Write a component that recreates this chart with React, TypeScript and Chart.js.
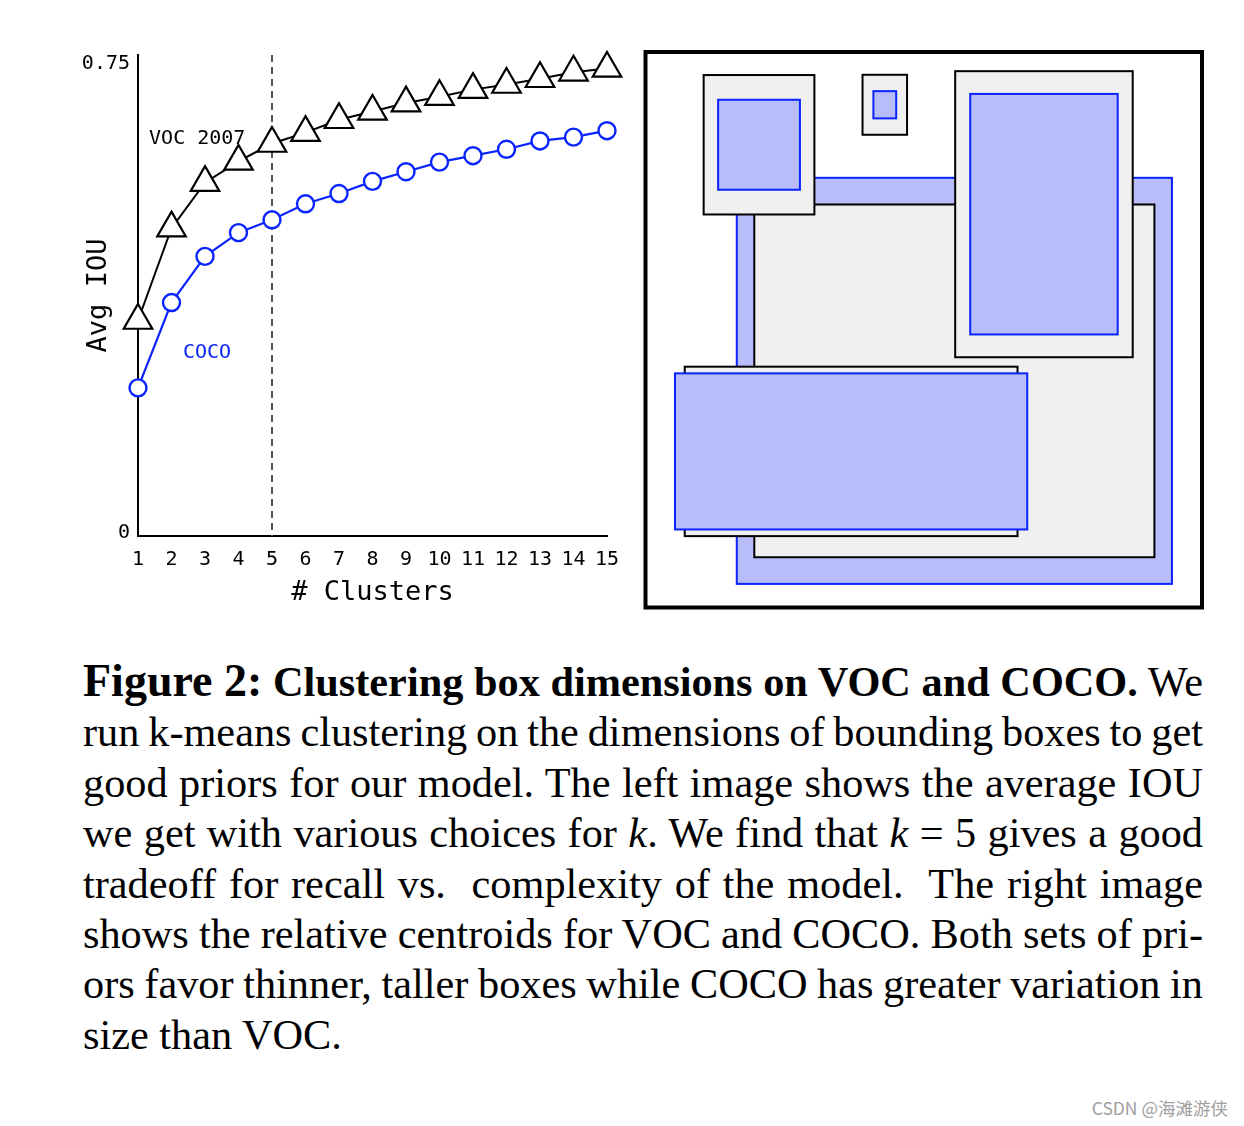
import React, { useEffect, useRef } from 'react';
import { Chart, registerables } from 'chart.js';

Chart.register(...registerables);

// ---------- Left plot data ----------
const clusters = [1, 2, 3, 4, 5, 6, 7, 8, 9, 10, 11, 12, 13, 14, 15];
const vocIou = [0.336, 0.48, 0.551, 0.584, 0.612, 0.629, 0.649, 0.662, 0.675, 0.685, 0.696, 0.704, 0.713, 0.723, 0.729];
const cocoIou = [0.231, 0.364, 0.436, 0.473, 0.493, 0.518, 0.534, 0.553, 0.568, 0.583, 0.593, 0.603, 0.616, 0.622, 0.632];
const yTickValues = [0, 0.75];
const yTickLabels = ['0', '0.75'];
const chosenK = 5;
const seriesNames = ['VOC 2007', 'COCO'];
// label anchors in data units (x = clusters, y = avg IOU)
const seriesLabelX = [1.33, 2.34];
const seriesLabelY = [0.611, 0.2776];

// ---------- Right panel data (relative centroids, frame = 0..1) ----------
const boxCenterX = [0.555, 0.204, 0.43, 0.716, 0.3695];
const boxCenterY = [0.592, 0.167, 0.095, 0.292, 0.719];
const vocBoxW = [0.719, 0.199, 0.08, 0.319, 0.598];
const vocBoxH = [0.635, 0.251, 0.108, 0.515, 0.305];
const cocoBoxW = [0.782, 0.147, 0.041, 0.265, 0.633];
const cocoBoxH = [0.731, 0.162, 0.049, 0.433, 0.281];

const MONO = '"DejaVu Sans Mono", monospace';
const BLUE = '#0a24ff';
const BOX_BLUE_FILL = '#b8bcfa';
const BOX_GRAY_FILL = '#f0f0f0';

const annotPlugin = {
  id: 'annot',
  beforeDatasetsDraw(chart: any) {
    const { ctx } = chart;
    const xs = chart.scales.x;
    const ys = chart.scales.y;
    ctx.save();
    ctx.strokeStyle = '#555555';
    ctx.lineWidth = 2;
    ctx.setLineDash([7, 5]);
    const px = Math.round(xs.getPixelForValue(chosenK));
    ctx.beginPath();
    ctx.moveTo(px, ys.getPixelForValue(0.75));
    ctx.lineTo(px, ys.getPixelForValue(0));
    ctx.stroke();
    ctx.setLineDash([]);
    ctx.font = '20px ' + MONO;
    ctx.textBaseline = 'alphabetic';
    ctx.textAlign = 'left';
    const colors = ['#000', BLUE];
    for (let i = 0; i < seriesNames.length; i++) {
      ctx.fillStyle = colors[i];
      ctx.fillText(seriesNames[i], xs.getPixelForValue(seriesLabelX[i]), ys.getPixelForValue(seriesLabelY[i]));
    }
    ctx.restore();
  },
};

const boxPlugin = {
  id: 'boxes',
  beforeDatasetsDraw(chart: any) {
    const { ctx, chartArea: a } = chart;
    const xs = chart.scales.x;
    const ys = chart.scales.y;
    ctx.save();
    ctx.fillStyle = '#fff';
    ctx.fillRect(a.left, a.top, a.right - a.left, a.bottom - a.top);
    for (let i = 0; i < boxCenterX.length; i++) {
      const cx = boxCenterX[i];
      const cy = boxCenterY[i];
      const voc = { w: vocBoxW[i], h: vocBoxH[i], fill: BOX_GRAY_FILL, stroke: '#000' };
      const coco = { w: cocoBoxW[i], h: cocoBoxH[i], fill: BOX_BLUE_FILL, stroke: BLUE };
      const order = voc.w * voc.h >= coco.w * coco.h ? [voc, coco] : [coco, voc];
      for (const b of order) {
        const x1 = xs.getPixelForValue(cx - b.w / 2);
        const x2 = xs.getPixelForValue(cx + b.w / 2);
        const y1 = ys.getPixelForValue(cy - b.h / 2);
        const y2 = ys.getPixelForValue(cy + b.h / 2);
        ctx.fillStyle = b.fill;
        ctx.fillRect(x1, y1, x2 - x1, y2 - y1);
        ctx.lineWidth = 2;
        ctx.strokeStyle = b.stroke;
        ctx.strokeRect(x1, y1, x2 - x1, y2 - y1);
      }
    }
    ctx.lineWidth = 4;
    ctx.strokeStyle = '#000';
    ctx.strokeRect(a.left, a.top, a.right - a.left, a.bottom - a.top);
    ctx.restore();
  },
};

function IouChart() {
  const ref = useRef<HTMLCanvasElement>(null);
  useEffect(() => {
    if (!ref.current) return;
    const chart = new Chart(ref.current, {
      type: 'line',
      data: {
        datasets: [
          {
            label: seriesNames[0],
            data: clusters.map((k, i) => ({ x: k, y: vocIou[i] })),
            borderColor: '#000',
            borderWidth: 2,
            pointStyle: 'triangle',
            pointRadius: 16.5,
            pointHoverRadius: 16.5,
            pointBackgroundColor: '#fff',
            pointBorderColor: '#000',
            pointBorderWidth: 2.2,
            clip: false,
          } as any,
          {
            label: seriesNames[1],
            data: clusters.map((k, i) => ({ x: k, y: cocoIou[i] })),
            borderColor: BLUE,
            borderWidth: 2.2,
            pointStyle: 'circle',
            pointRadius: 8.5,
            pointHoverRadius: 8.5,
            pointBackgroundColor: '#fff',
            pointBorderColor: BLUE,
            pointBorderWidth: 2.4,
            clip: false,
          } as any,
        ],
      },
      options: {
        responsive: false,
        animation: false,
        devicePixelRatio: 1,
        layout: { padding: { left: 0, right: 33, top: 55, bottom: 0 }, autoPadding: false } as any,
        plugins: { legend: { display: false }, tooltip: { enabled: false } },
        scales: {
          x: {
            type: 'linear',
            min: 1,
            max: 15,
            afterBuildTicks: (s: any) => {
              s.ticks = clusters.map((v) => ({ value: v }));
            },
            ticks: {
              color: '#000',
              font: { family: MONO, size: 20 },
              padding: 12,
              maxRotation: 0,
              autoSkip: false,
              callback: (v: any) => String(v),
            },
            grid: { display: false, drawTicks: false },
            border: { display: true, color: '#000', width: 2 },
            title: {
              display: true,
              text: '# Clusters',
              color: '#000',
              font: { family: MONO, size: 27 },
              padding: { top: 0, bottom: 31 },
            },
            afterFit: (s: any) => {
              s.height = 104;
            },
          },
          y: {
            type: 'linear',
            min: 0,
            max: 0.75,
            afterBuildTicks: (s: any) => {
              s.ticks = yTickValues.map((v) => ({ value: v }));
            },
            ticks: {
              color: '#000',
              padding: 8,
              font: (ctx: any) => ({
                family: MONO,
                size: 20,
                lineHeight: ctx.tick && ctx.tick.value > 0 ? 0.85 : 0.3,
              }),
              callback: (v: any, i: number) => (i === 0 ? [yTickLabels[0], ''] : ['', yTickLabels[1]]),
            },
            grid: { display: false, drawTicks: false },
            border: { display: true, color: '#000', width: 2 },
            title: {
              display: true,
              text: 'Avg IOU',
              color: '#000',
              font: { family: MONO, size: 27 },
              padding: { top: 83, bottom: 0 },
            },
            afterFit: (s: any) => {
              s.width = 138;
            },
          },
        },
      },
      plugins: [annotPlugin],
    });
    return () => chart.destroy();
  }, []);
  return <canvas ref={ref} width={640} height={640} style={{ position: 'absolute', left: 0, top: 0, display: 'block' }} />;
}

function CentroidChart() {
  const ref = useRef<HTMLCanvasElement>(null);
  useEffect(() => {
    if (!ref.current) return;
    const chart = new Chart(ref.current, {
      type: 'scatter',
      data: {
        datasets: [
          {
            label: 'VOC',
            data: boxCenterX.map((x, i) => ({ x, y: boxCenterY[i] })),
            pointRadius: 0,
          },
          {
            label: 'COCO',
            data: boxCenterX.map((x, i) => ({ x, y: boxCenterY[i] })),
            pointRadius: 0,
          },
        ],
      },
      options: {
        responsive: false,
        animation: false,
        devicePixelRatio: 1,
        layout: { padding: { left: 5.5, top: 12, right: 18, bottom: 12.5 }, autoPadding: false } as any,
        plugins: { legend: { display: false }, tooltip: { enabled: false } },
        scales: {
          x: { type: 'linear', min: 0, max: 1, display: false },
          y: { type: 'linear', min: 0, max: 1, reverse: true, display: false },
        },
      },
      plugins: [boxPlugin],
    });
    return () => chart.destroy();
  }, []);
  return <canvas ref={ref} width={580} height={580} style={{ position: 'absolute', left: 640, top: 40, display: 'block' }} />;
}

const lineStyle: React.CSSProperties = {
  textAlign: 'justify',
  textAlignLast: 'justify' as any,
  whiteSpace: 'nowrap',
};

export default function App() {
  return (
    <div
      style={{
        position: 'absolute',
        left: 0,
        top: 0,
        width: 1244,
        height: 1126,
        overflow: 'hidden',
        background: '#fff',
      }}
    >
      <IouChart />
      <CentroidChart />
      <div
        style={{
          position: 'absolute',
          left: 83,
          top: 656,
          width: 1120,
          fontFamily: '"Liberation Serif", "Times New Roman", serif',
          fontSize: 42.3,
          wordSpacing: -3,
          lineHeight: '50.4px',
          color: '#000',
        }}
      >
        <div style={lineStyle}>
          <b style={{ fontSize: 46 }}>Figure 2:</b> <b>Clustering box dimensions on VOC and COCO.</b> We
        </div>
        <div style={lineStyle}>run k-means clustering on the dimensions of bounding boxes to get</div>
        <div style={lineStyle}>good priors for our model. The left image shows the average IOU</div>
        <div style={lineStyle}>
          we get with various choices for <i>k</i>. We find that <i>k</i> = 5 gives a good
        </div>
        <div style={lineStyle}>tradeoff for recall vs.&nbsp; complexity of the model.&nbsp; The right image</div>
        <div style={lineStyle}>shows the relative centroids for VOC and COCO. Both sets of pri-</div>
        <div style={lineStyle}>ors favor thinner, taller boxes while COCO has greater variation in</div>
        <div style={{ whiteSpace: 'nowrap', wordSpacing: 0 }}>size than VOC.</div>
      </div>
      <div
        style={{
          position: 'absolute',
          right: 16,
          top: 1095,
          fontFamily: '"Noto Sans CJK SC", "Noto Sans", sans-serif',
          fontSize: 17.5,
          color: '#a0a0a0',
          whiteSpace: 'nowrap',
        }}
      >
        CSDN @海滩游侠
      </div>
    </div>
  );
}
